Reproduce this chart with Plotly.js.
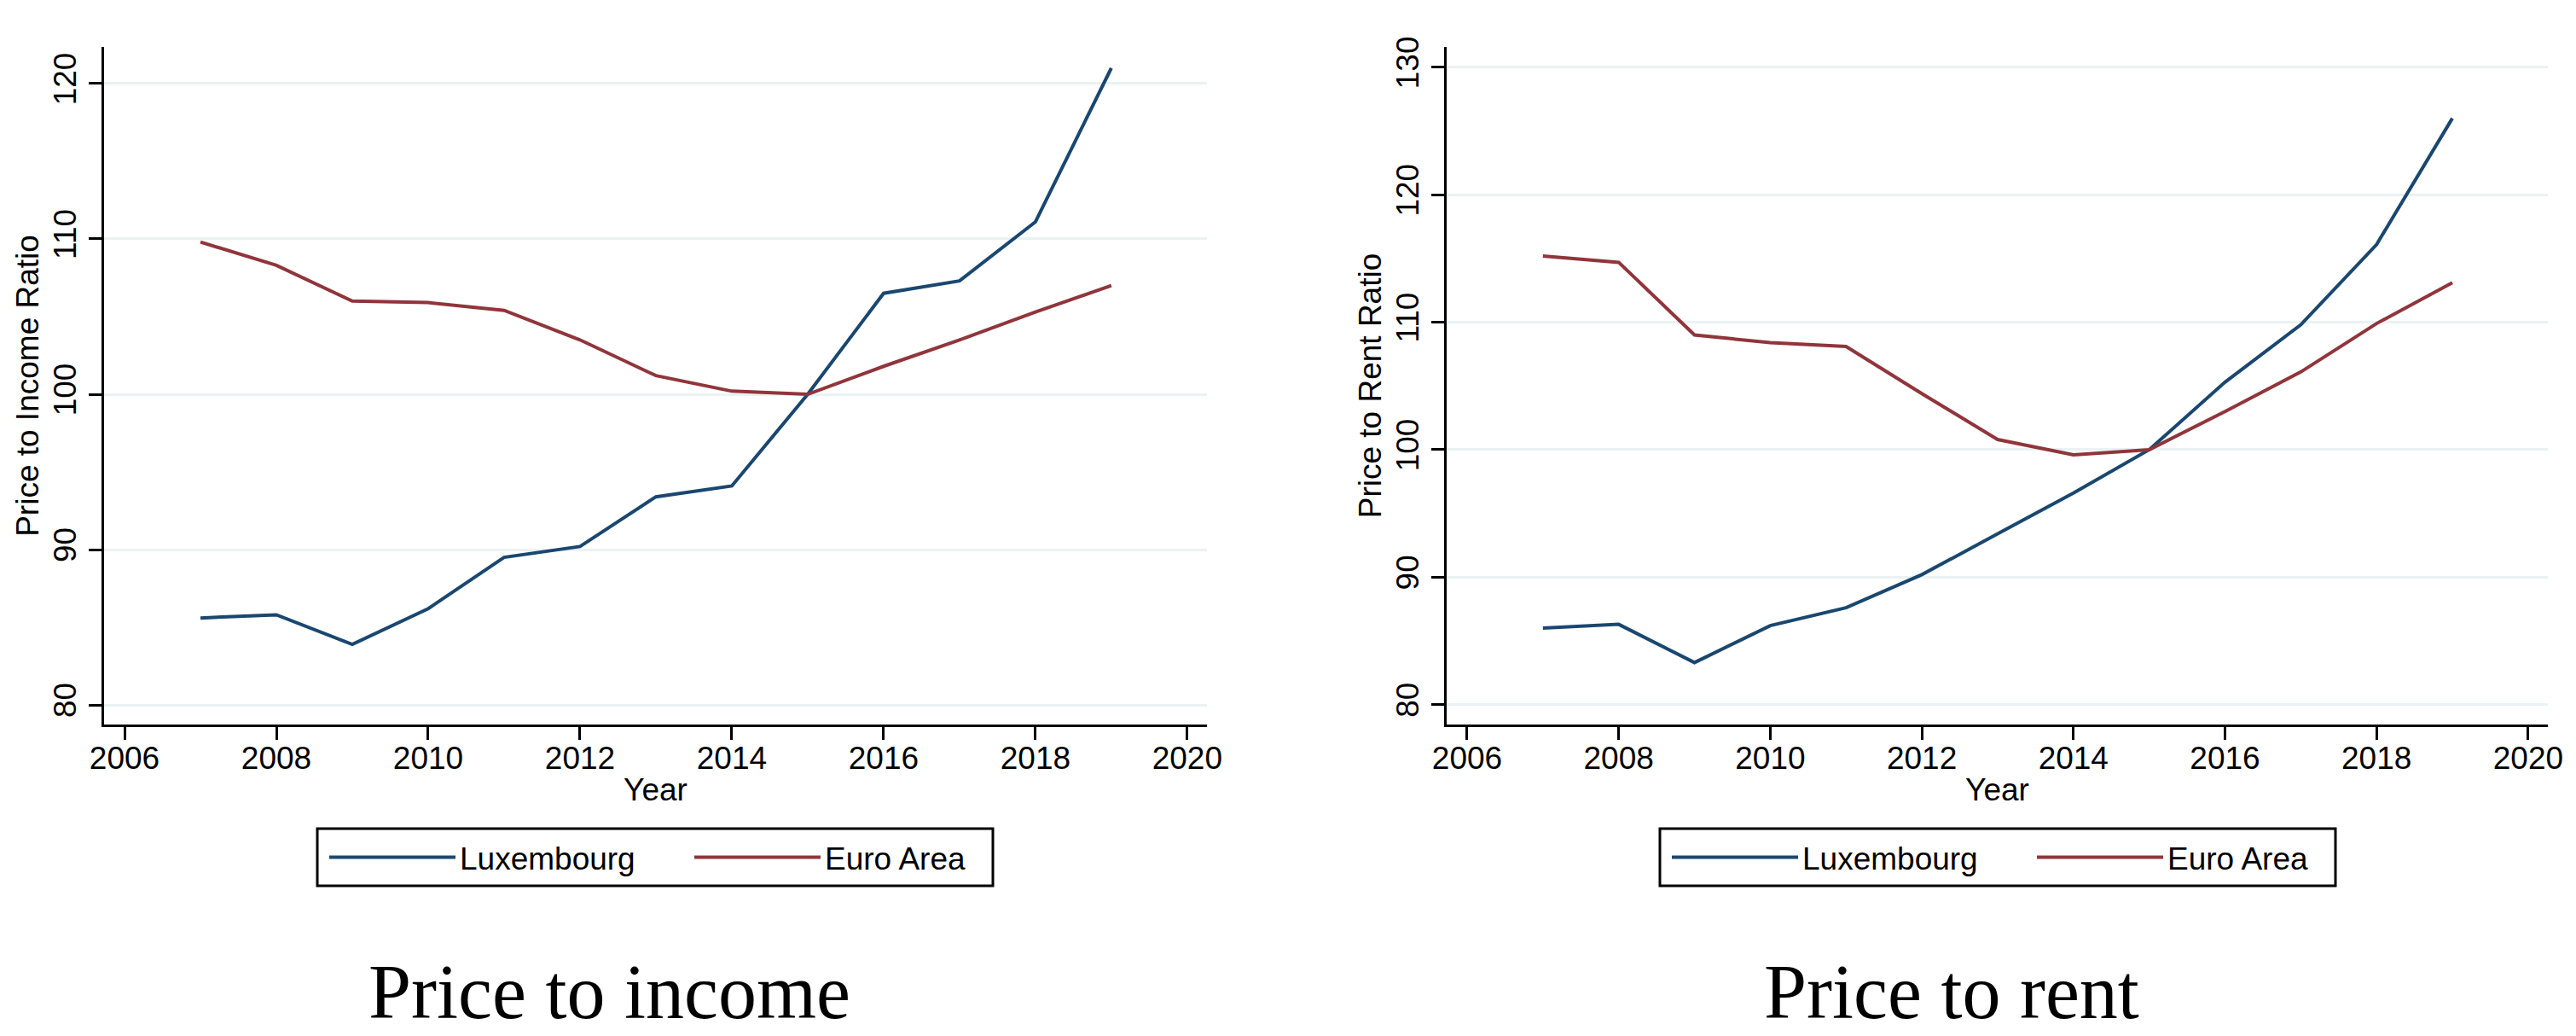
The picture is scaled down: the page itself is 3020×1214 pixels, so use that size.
<!DOCTYPE html>
<html>
<head>
<meta charset="utf-8">
<script src="https://cdn.plot.ly/plotly-3.0.1.min.js"></script>
<style>html,body{margin:0;padding:0;background:#fff;}#chart{width:3020px;height:1214px;}</style>
</head>
<body>
<div id="chart"></div>
<script>
const years = [2007, 2008, 2009, 2010, 2011, 2012, 2013, 2014, 2015, 2016, 2017, 2018, 2019];
const luxIncome  = [85.6, 85.8, 83.9, 86.2, 89.5, 90.2, 93.4, 94.1, 100.0, 106.5, 107.3, 111.1, 121.0];
const euroIncome = [109.8, 108.3, 106.0, 105.9, 105.4, 103.5, 101.2, 100.2, 100.0, 101.8, 103.5, 105.3, 107.0];
const luxRent    = [86.0, 86.3, 83.3, 86.2, 87.6, 90.2, 93.4, 96.6, 100.0, 105.3, 109.8, 116.1, 126.0];
const euroRent   = [115.2, 114.7, 109.0, 108.4, 108.1, 104.4, 100.8, 99.6, 100.0, 103.0, 106.1, 109.9, 113.1];
const seriesNames = ["Luxembourg", "Euro Area"];
const panelTitles = ["Price to income", "Price to rent"];
const yTitles = ["Price to Income Ratio", "Price to Rent Ratio"];
const xTitle = "Year";
const xTicks = [2006, 2008, 2010, 2012, 2014, 2016, 2018, 2020];
const yTicksIncome = [80, 90, 100, 110, 120];
const yTicksRent = [80, 90, 100, 110, 120, 130];

const W = 3020, H = 1214;
const NAVY = "#1a476f", MAROON = "#90353b", GRID = "#eaf2f3";
const SANS = "Liberation Sans, Arial, sans-serif";
const SERIF = "Liberation Serif, Times New Roman, serif";
const px = v => v / W, py = v => 1 - v / H;

function line(x, y, name, color, xa, ya, leg) {
  return {x: x, y: y, name: name, type: "scatter", mode: "lines",
    line: {color: color, width: 4}, xaxis: xa, yaxis: ya, legend: leg, hoverinfo: "x+y"};
}
const data = [
  line(years, luxIncome, seriesNames[0], NAVY, "x", "y", "legend"),
  line(years, euroIncome, seriesNames[1], MAROON, "x", "y", "legend"),
  line(years, luxRent, seriesNames[0], NAVY, "x2", "y2", "legend2"),
  line(years, euroRent, seriesNames[1], MAROON, "x2", "y2", "legend2")
];

function xaxis(domain, anchor) {
  return {domain: domain, anchor: anchor, range: [2005.73, 2020.26],
    tickvals: xTicks, ticktext: xTicks.map(String), tickangle: 0,
    showline: true, linecolor: "#000", linewidth: 3, ticks: "outside", ticklen: 15, tickwidth: 3, tickcolor: "#000",
    ticklabelstandoff: -10,
    showgrid: false, zeroline: false, tickfont: {family: SANS, size: 37, color: "#000"},
    title: {text: xTitle, font: {family: SANS, size: 37, color: "#000"}, standoff: 4}};
}
function yaxis(range, ticks, title, anchor) {
  return {domain: [py(849), py(55)], anchor: anchor, range: range,
    tickvals: ticks, ticktext: ticks.map(String), tickangle: -90,
    showline: true, linecolor: "#000", linewidth: 3, ticks: "outside", ticklen: 15, tickwidth: 3, tickcolor: "#000",
    showgrid: true, gridcolor: GRID, gridwidth: 3, zeroline: false,
    tickfont: {family: SANS, size: 37, color: "#000"},
    title: {text: title, font: {family: SANS, size: 37, color: "#000"}, standoff: 0}};
}
// legend entries (border box drawn as a shape so it can hug the entries)
function legend(lineStart) {
  return {orientation: "h", x: px(lineStart - 5), xanchor: "left", y: py(974), yanchor: "top",
    borderwidth: 0, bgcolor: "rgba(0,0,0,0)",
    font: {family: SANS, size: 37, color: "#000"}, itemwidth: 148, entrywidth: 265, entrywidthmode: "pixels",
    itemclick: false, itemdoubleclick: false};
}
function box(x0, x1) {
  return {type: "rect", xref: "paper", yref: "paper", x0: px(x0), x1: px(x1), y0: py(1038), y1: py(971),
    line: {color: "#000", width: 3}, fillcolor: "rgba(0,0,0,0)", layer: "above"};
}

const layout = {
  width: W, height: H, margin: {l: 0, r: 0, t: 0, b: 0},
  paper_bgcolor: "#fff", plot_bgcolor: "#fff", showlegend: true,
  xaxis: xaxis([px(122), px(1415)], "y"),
  yaxis: yaxis([78.74, 122.36], yTicksIncome, yTitles[0], "x"),
  xaxis2: xaxis([px(1696), px(2987)], "y2"),
  yaxis2: yaxis([78.44, 131.6], yTicksRent, yTitles[1], "x2"),
  legend: legend(386),
  legend2: legend(1960),
  shapes: [box(372, 1164), box(1946, 2738)],
  annotations: [
    {text: panelTitles[0], xref: "paper", yref: "paper", x: px(714), y: py(1162), xanchor: "center", yanchor: "middle",
     showarrow: false, font: {family: SERIF, size: 90, color: "#000"}},
    {text: panelTitles[1], xref: "paper", yref: "paper", x: px(2288), y: py(1162), xanchor: "center", yanchor: "middle",
     showarrow: false, font: {family: SERIF, size: 90, color: "#000"}}
  ]
};
Plotly.newPlot("chart", data, layout, {displayModeBar: false, staticPlot: true});
</script>
</body>
</html>
